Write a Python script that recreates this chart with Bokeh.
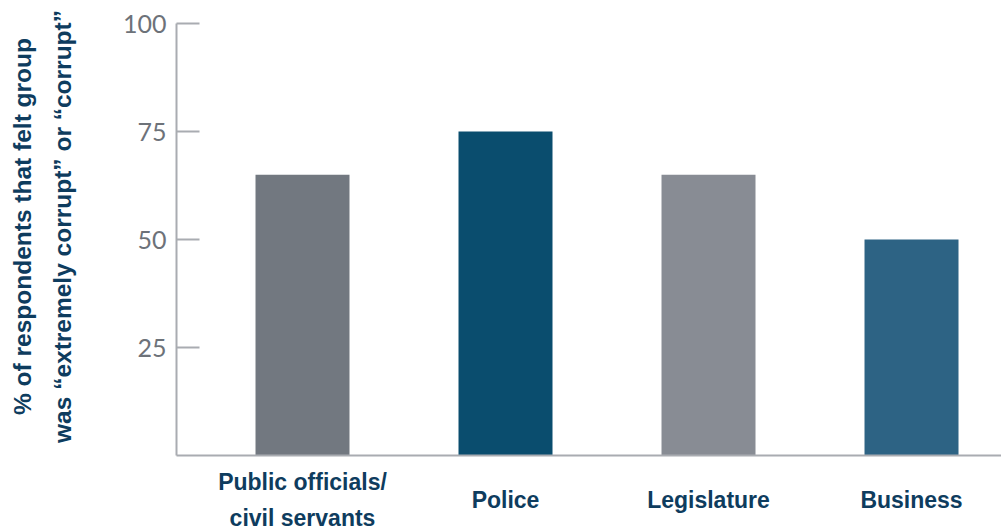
import math
from bokeh.plotting import figure
from bokeh.models import FixedTicker, Range1d, ColumnDataSource
from bokeh.layouts import column, row
from bokeh.core.properties import value
from bokeh.embed import file_html
from bokeh.resources import INLINE

categories = ["Public officials/\ncivil servants", "Police", "Legislature", "Business"]
values = [65, 75, 65, 50]
colors = ["#727880", "#0a4d6e", "#888c94", "#2d6384"]
y_ticks = [25, 50, 75, 100]
y_title = "% of respondents that felt group\nwas \u201cextremely corrupt\u201d or \u201ccorrupt\u201d"

idx = list(range(len(categories)))
src = ColumnDataSource(dict(x=idx, top=values, color=colors, label=categories,
                            ly=[0.5] * len(categories)))

axis_color = "#a9acb1"
label_color = "#0e3c5e"

# left panel holding the rotated y-axis title
pl = figure(width=100, height=530, output_backend="svg", toolbar_location=None,
            x_range=Range1d(0, 100), y_range=Range1d(0, 530),
            min_border_left=0, min_border_right=0, min_border_top=0, min_border_bottom=0,
            x_axis_location=None, y_axis_location=None)
pl.outline_line_color = None
pl.grid.visible = False
pl.text(x=[42], y=[304], text=[y_title], angle=math.pi / 2, text_align="center",
        text_baseline="middle", text_font=value("Liberation Sans"),
        text_font_style="bold", text_font_size="24.5px", text_color=label_color,
        text_line_height=1.5)

p = figure(frame_width=825, frame_height=432, output_backend="svg", toolbar_location=None,
           x_range=Range1d(-0.6207, 3.4433), y_range=Range1d(0, 100),
           min_border_left=76, min_border_right=0, min_border_top=23, min_border_bottom=0)
p.outline_line_color = None
p.grid.visible = False

p.vbar(x="x", top="top", width=0.463, bottom=0, color="color", source=src, line_color=None)

xa = p.xaxis[0]
xa.ticker = FixedTicker(ticks=idx)
xa.axis_line_color = axis_color
xa.axis_line_width = 2
xa.major_tick_line_color = None
xa.minor_tick_line_color = None
xa.major_label_text_font_size = "0px"
xa.major_label_text_color = None
xa.major_label_standoff = 0

ya = p.yaxis[0]
ya.ticker = FixedTicker(ticks=y_ticks)
ya.axis_line_color = axis_color
ya.axis_line_width = 2
ya.major_tick_line_color = axis_color
ya.major_tick_line_width = 2
ya.major_tick_in = 23
ya.major_tick_out = 0
ya.minor_tick_line_color = None
ya.major_label_text_font = "Lato"
ya.major_label_text_font_size = "25px"
ya.major_label_text_color = "#6d7279"
ya.major_label_standoff = 10

p2 = figure(width=901, height=73, output_backend="svg", toolbar_location=None,
            x_range=p.x_range, y_range=Range1d(0.03, 1.03),
            min_border_left=76, min_border_right=0, min_border_top=0, min_border_bottom=0,
            x_axis_location=None, y_axis_location=None)
p2.outline_line_color = None
p2.grid.visible = False
p2.text(x="x", y="ly", text="label", source=src, text_align="center",
        text_baseline="middle", text_font=value("Liberation Sans"),
        text_font_style="bold", text_font_size="23px", text_color=label_color,
        text_line_height=1.4)

layout = row(pl, column(p, p2, spacing=0), spacing=0)
open("out.html", "w").write(file_html(layout, INLINE))
